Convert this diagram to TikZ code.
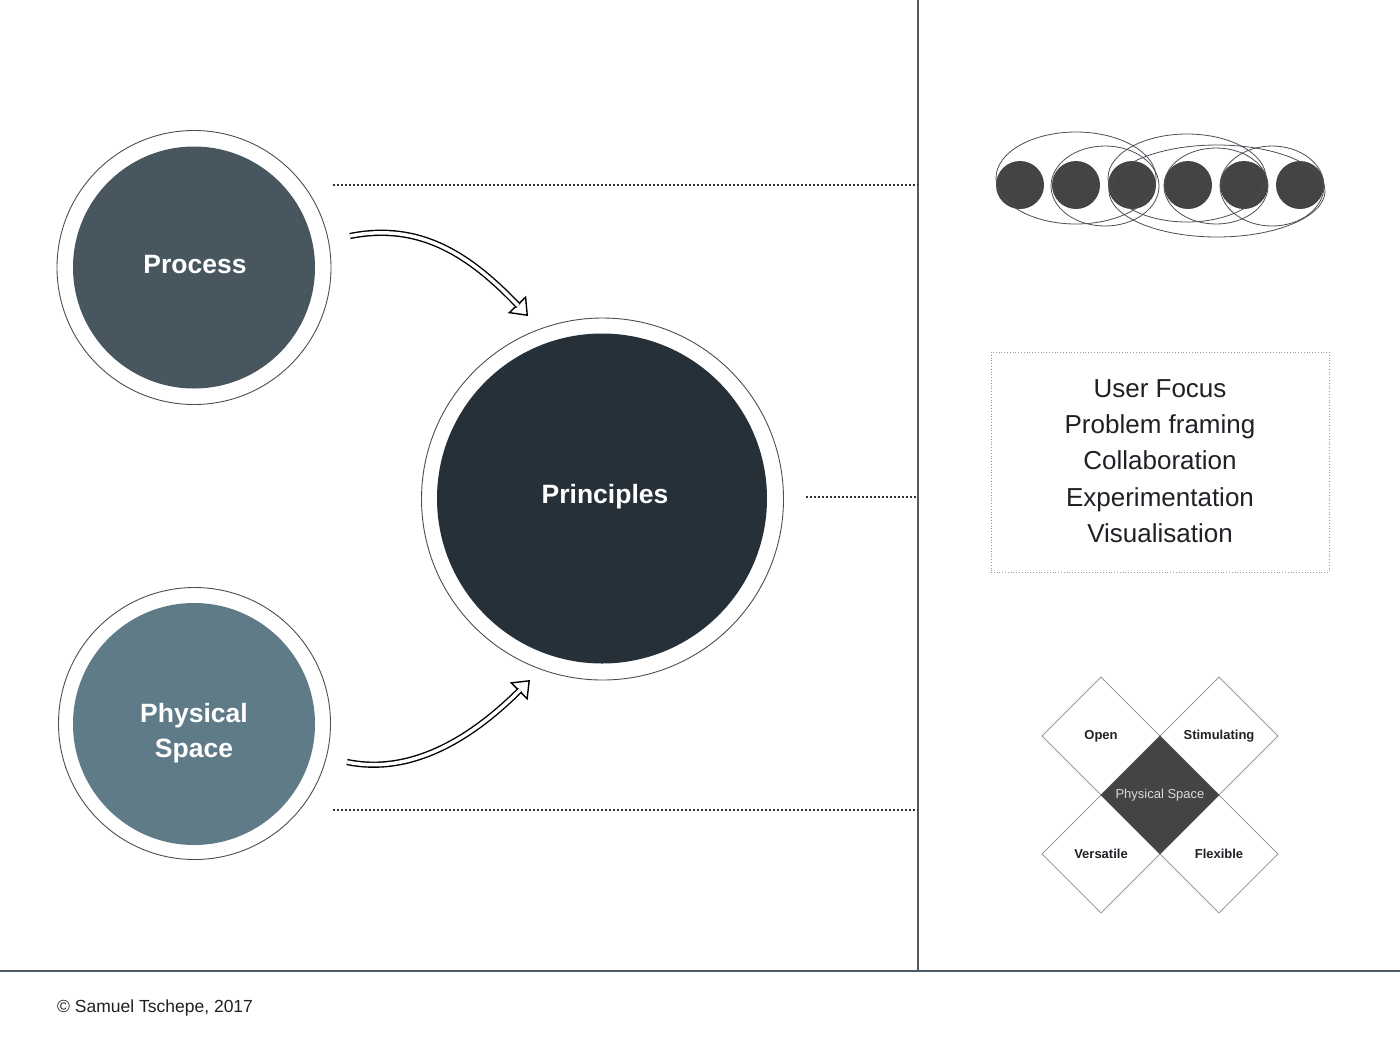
\documentclass[tikz,border=0pt]{standalone}
\usepackage{fontspec}
\setmainfont{Liberation Sans}
\usetikzlibrary{shapes.geometric,arrows.meta}
\definecolor{rule}{HTML}{4D5B67}
\definecolor{procfill}{HTML}{48575F}
\definecolor{princfill}{HTML}{263039}
\definecolor{physfill}{HTML}{5F7B87}
\definecolor{ringline}{HTML}{4A4F55}
\definecolor{dotgrey}{HTML}{333333}
\definecolor{boxgrey}{HTML}{9A9A9A}
\definecolor{blob}{HTML}{444444}
\definecolor{txt}{HTML}{1E2125}
\definecolor{dmline}{HTML}{8A8A8A}
\tikzset{
  ring/.style={circle, draw=ringline, line width=0.9pt, inner sep=0pt},
  disc/.style={circle, inner sep=0pt, text=white, font=\fontsize{26.5}{35}\selectfont\bfseries, align=center},
  dotline/.style={draw=dotgrey, line width=1.5pt, dash pattern=on 1.5pt off 2.5pt},
  arrowhead/.style={draw=black, line width=1.4pt, -{Triangle[open, fill=white, length=16pt, width=25pt]}},
  arrowshaft/.style={draw=black, line width=1.4pt, double=white, double distance=3.5pt, shorten >=14pt},
  dmbox/.style={diamond, draw=dmline, fill=white, line width=0.7pt, aspect=1, inner sep=0pt, minimum width=118pt, minimum height=118pt, font=\fontsize{13}{14}\selectfont\bfseries, text=txt},
  blobc/.style={circle, fill=blob, inner sep=0pt, minimum size=48pt},
  loop/.style={draw=ringline, line width=0.8pt},
}
\begin{document}
\begin{tikzpicture}[x=1pt,y=-1pt]
\useasboundingbox (0,0) rectangle (1400,1045);
\fill[white] (0,0) rectangle (1400,1045);

% frame lines
\coordinate (vtop) at (918,0);
\coordinate (vbot) at (918,971);
\coordinate (hl) at (0,971);
\coordinate (hr) at (1400,971);
\draw[rule, line width=1.2pt] (vtop) -- (vbot);
\draw[rule, line width=1.2pt] (hl) -- (hr);

% circles
\node[ring, minimum size=274pt] (procring) at (194,267.5) {};
\node[disc, fill=procfill, minimum size=242pt] (process) at (194,267.5) {};
\node[disc] (proclbl) at (195,265) {Process};
\node[ring, minimum size=362pt] (princring) at (602.5,499) {};
\node[disc, fill=princfill, minimum size=330pt] (principles) at (602,498.5) {};
\node[disc] (princlbl) at (605,497) {Principles};
\node[ring, minimum size=272pt] (physring) at (194.5,723.5) {};
\node[disc, fill=physfill, minimum size=242pt] (physical) at (194,724) {};
\node[disc] (physlbl) at (194,733) {Physical\\Space};

% dotted guide lines
\coordinate (d1a) at (333,185);
\coordinate (d1b) at (918,185);
\coordinate (d2a) at (806,497);
\coordinate (d2b) at (918,497);
\coordinate (d3a) at (333,810);
\coordinate (d3b) at (918,810);
\draw[dotline] (d1a) -- (d1b);
\draw[dotline] (d2a) -- (d2b);
\draw[dotline] (d3a) -- (d3b);

% hollow arrows
\coordinate (a1s) at (350,236);
\coordinate (a1e) at (528,316);
\coordinate (a2s) at (347,762);
\coordinate (a2e) at (530,680);
\draw[arrowhead] (a1s) .. controls (420,222) and (470,255) .. (a1e);
\draw[arrowshaft] (a1s) .. controls (420,222) and (470,255) .. (a1e);
\draw[arrowhead] (a2s) .. controls (410,775) and (470,740) .. (a2e);
\draw[arrowshaft] (a2s) .. controls (410,775) and (470,740) .. (a2e);

% cluster of circles
\foreach \i/\x in {1/1020,2/1076,3/1132,4/1188,5/1244,6/1300}{
  \node[blobc] (b\i) at (\x,185) {};
}
\draw[loop] (1076,178) ellipse [x radius=80, y radius=46];
\draw[loop] (1105,186) ellipse [x radius=54, y radius=40];
\draw[loop] (1187,178) ellipse [x radius=79, y radius=44];
\draw[loop] (1216,186) ellipse [x radius=52, y radius=38];
\draw[loop] (1272,186) ellipse [x radius=52, y radius=40];
\draw[loop] (1217,191) ellipse [x radius=108, y radius=46];

% principles list box
\node[draw=boxgrey, line width=0.8pt, dotted, minimum width=338pt, minimum height=220pt, inner sep=0pt] (listbox) at (1160,462) {};
\node[font=\fontsize{26}{36.4}\selectfont, text=txt, align=center] (list) at (1160,461)
  {User Focus\\Problem framing\\Collaboration\\Experimentation\\Visualisation};

% diamonds
\node[dmbox] (open) at (1101,736) {Open};
\node[dmbox] (stim) at (1219,736) {Stimulating};
\node[dmbox] (vers) at (1101,854) {Versatile};
\node[dmbox] (flex) at (1219,854) {Flexible};
\node[diamond, fill=blob, draw=blob, aspect=1, inner sep=0pt, minimum width=118pt, minimum height=118pt, text=white!85!black, font=\fontsize{13}{14}\selectfont] (space) at (1160,795) {Physical Space};

% footer
\node[anchor=west, font=\fontsize{17.5}{20}\selectfont, text=txt, inner sep=0pt] (credit) at (57,1008) {© Samuel Tschepe, 2017};
\end{tikzpicture}
\end{document}
